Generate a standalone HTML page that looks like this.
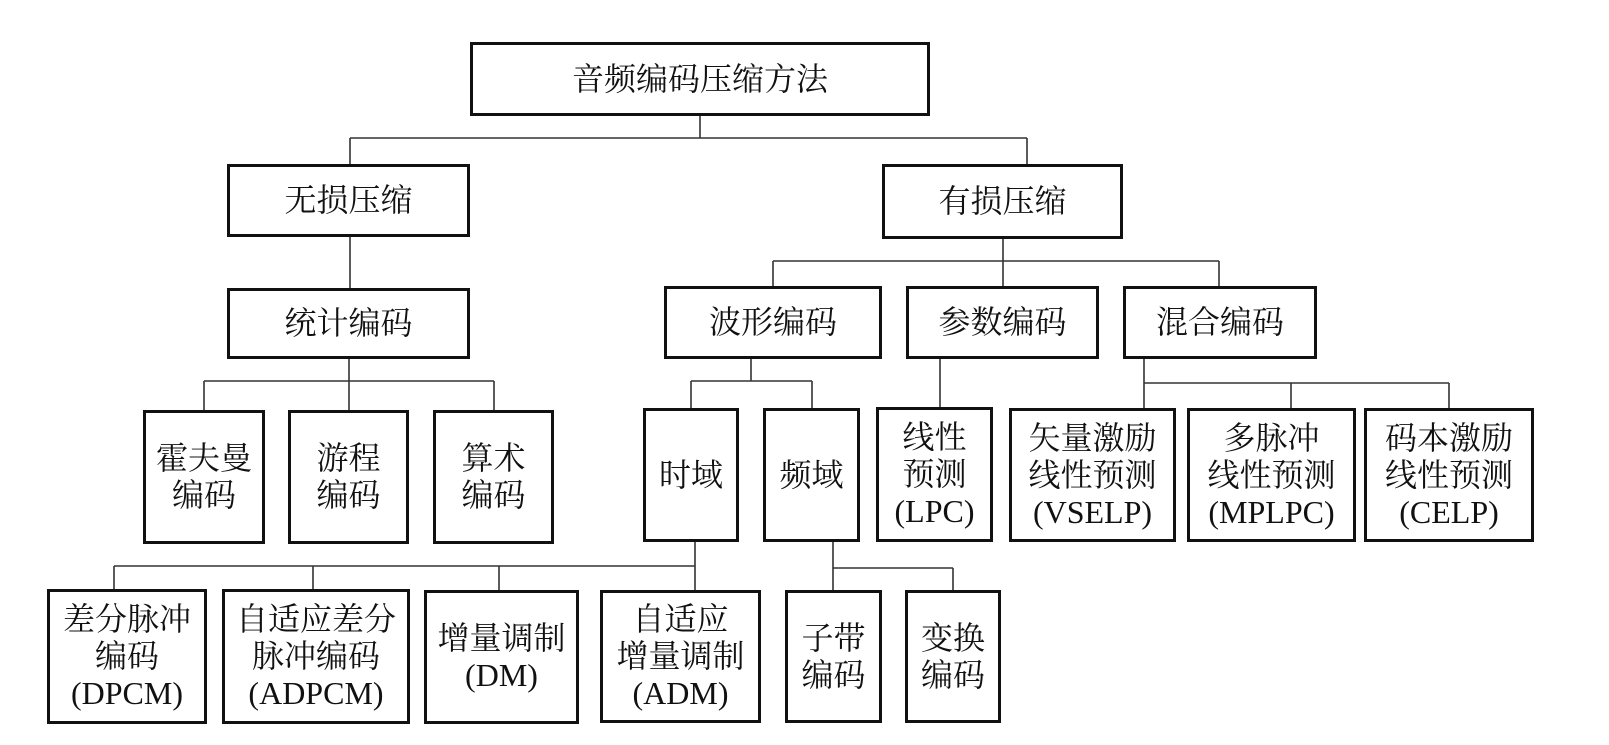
<!DOCTYPE html>
<html><head><meta charset="utf-8"><style>
html,body{margin:0;padding:0;background:#fff;}
body{width:1609px;height:745px;position:relative;overflow:hidden;}
.b{position:absolute;box-sizing:border-box;border:3px solid #111;display:flex;align-items:center;justify-content:center;text-align:center;
font-family:"Liberation Serif","Noto Serif CJK SC",serif;font-size:32px;line-height:37px;color:#111;white-space:nowrap;}
svg{position:absolute;left:0;top:0;}
</style></head><body>
<svg width="1609" height="745" stroke="#333" stroke-width="1.6" fill="none">
<path d="M700 116V138M350 138H1027M350 138V164M1027 138V164"/>
<path d="M350 237V288"/>
<path d="M349 359V381M204 381H494M204 381V410M349 381V410M494 381V410"/>
<path d="M1003 239V286M773 261H1219M773 261V286M1219 261V286"/>
<path d="M751 359V381M691 381H812M691 381V408M812 381V408"/>
<path d="M940 359V407"/>
<path d="M1144 359V408M1144 383H1449M1291 383V408M1449 383V408"/>
<path d="M695 542V590M114 566H695M114 566V589M313 566V589M499 566V590"/>
<path d="M833 542V590M833 568H953M953 568V590"/>
</svg>
<div class="b" style="left:470px;top:42px;width:460px;height:74px">音频编码压缩方法</div>
<div class="b" style="left:227px;top:164px;width:243px;height:73px">无损压缩</div>
<div class="b" style="left:227px;top:288px;width:243px;height:71px">统计编码</div>
<div class="b" style="left:882px;top:164px;width:241px;height:75px">有损压缩</div>
<div class="b" style="left:664px;top:286px;width:218px;height:73px">波形编码</div>
<div class="b" style="left:906px;top:286px;width:193px;height:73px">参数编码</div>
<div class="b" style="left:1123px;top:286px;width:194px;height:73px">混合编码</div>
<div class="b" style="left:143px;top:410px;width:122px;height:134px">霍夫曼<br>编码</div>
<div class="b" style="left:288px;top:410px;width:121px;height:134px">游程<br>编码</div>
<div class="b" style="left:433px;top:410px;width:121px;height:134px">算术<br>编码</div>
<div class="b" style="left:643px;top:408px;width:96px;height:134px">时域</div>
<div class="b" style="left:763px;top:408px;width:97px;height:134px">频域</div>
<div class="b" style="left:876px;top:407px;width:117px;height:135px">线性<br>预测<br>(LPC)</div>
<div class="b" style="left:1009px;top:408px;width:167px;height:134px">矢量激励<br>线性预测<br>(VSELP)</div>
<div class="b" style="left:1187px;top:408px;width:169px;height:134px">多脉冲<br>线性预测<br>(MPLPC)</div>
<div class="b" style="left:1364px;top:408px;width:170px;height:134px">码本激励<br>线性预测<br>(CELP)</div>
<div class="b" style="left:47px;top:589px;width:160px;height:135px">差分脉冲<br>编码<br>(DPCM)</div>
<div class="b" style="left:222px;top:589px;width:188px;height:135px">自适应差分<br>脉冲编码<br>(ADPCM)</div>
<div class="b" style="left:424px;top:590px;width:155px;height:134px">增量调制<br>(DM)</div>
<div class="b" style="left:600px;top:590px;width:161px;height:133px">自适应<br>增量调制<br>(ADM)</div>
<div class="b" style="left:785px;top:590px;width:97px;height:133px">子带<br>编码</div>
<div class="b" style="left:905px;top:590px;width:96px;height:133px">变换<br>编码</div>
</body></html>
